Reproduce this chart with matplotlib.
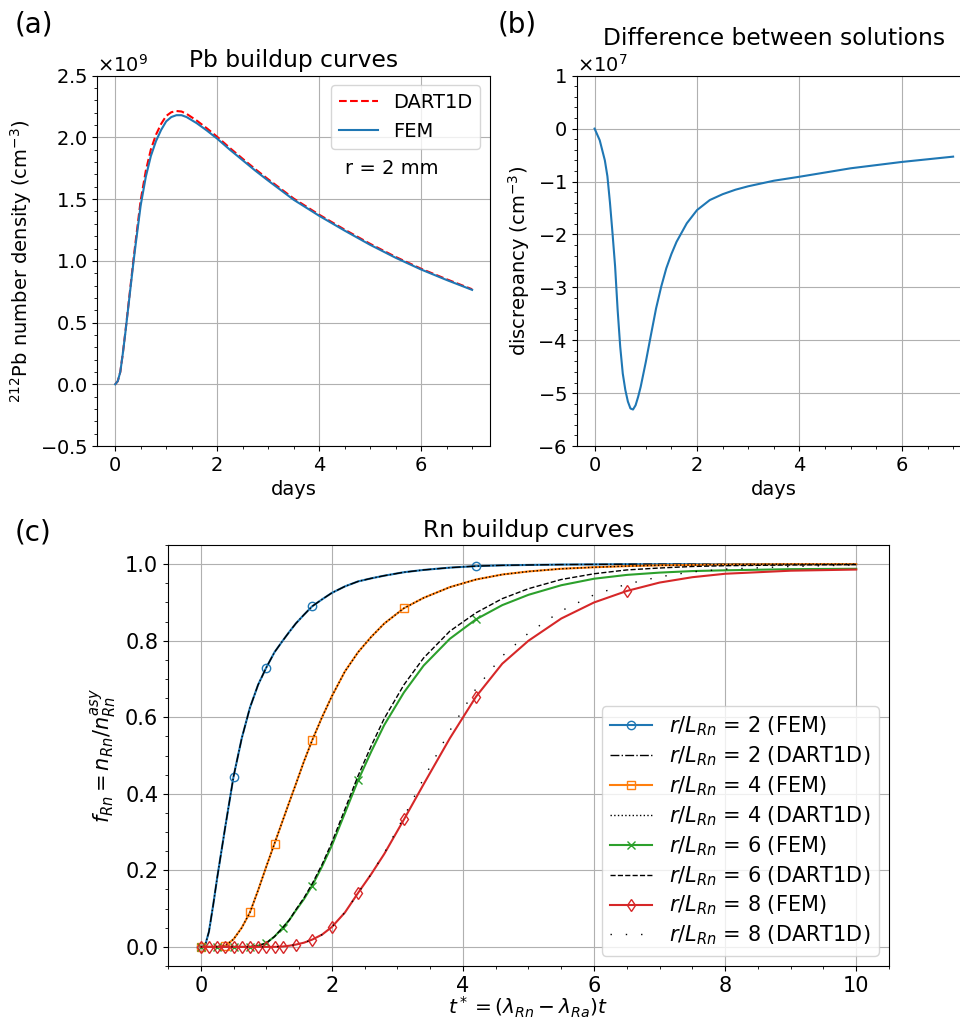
import numpy as np
import matplotlib
matplotlib.use('Agg')
import matplotlib.pyplot as plt
from matplotlib.ticker import AutoMinorLocator

plt.rcParams['font.size'] = 14

# (a) Pb-212 buildup, values in units of 1e9 cm^-3
days_a = [0, 0.05, 0.1, 0.15, 0.2, 0.25, 0.3, 0.35, 0.4, 0.5, 0.6, 0.7, 0.8, 0.9, 1.0,
          1.1, 1.2, 1.3, 1.4, 1.6, 1.8, 2.0, 2.25, 2.5, 2.75, 3.0, 3.5, 4.0, 4.5, 5.0,
          5.5, 6.0, 6.5, 7.0]
pb_fem = [0, 0.025, 0.1, 0.25, 0.42, 0.6, 0.78, 0.96, 1.13, 1.45, 1.68, 1.85, 1.97,
          2.06, 2.13, 2.165, 2.18, 2.18, 2.165, 2.115, 2.055, 1.99, 1.90, 1.815, 1.73,
          1.65, 1.495, 1.365, 1.245, 1.13, 1.025, 0.93, 0.845, 0.765]
pb_dart = [0, 0.025, 0.1, 0.252, 0.426, 0.609, 0.794, 0.98, 1.156, 1.491, 1.729, 1.903,
           2.022, 2.109, 2.174, 2.204, 2.214, 2.21, 2.191, 2.136, 2.073, 2.005, 1.914,
           1.827, 1.742, 1.661, 1.505, 1.374, 1.253, 1.138, 1.032, 0.936, 0.851, 0.770]

# (b) FEM - DART1D, units of 1e7 cm^-3
days_b = [0, 0.1, 0.2, 0.25, 0.3, 0.35, 0.4, 0.45, 0.5, 0.55, 0.6, 0.65, 0.7, 0.75,
          0.8, 0.85, 0.9, 1.0, 1.1, 1.2, 1.3, 1.4, 1.5, 1.6, 1.8, 2.0, 2.25, 2.5, 2.75,
          3.0, 3.5, 4.0, 4.5, 5.0, 5.5, 6.0, 6.5, 7.0]
diff_b = [0, -0.22, -0.6, -0.9, -1.4, -1.98, -2.6, -3.43, -4.12, -4.63, -4.94, -5.16,
          -5.29, -5.31, -5.23, -5.07, -4.88, -4.41, -3.9, -3.4, -2.99, -2.64, -2.37,
          -2.14, -1.79, -1.54, -1.35, -1.24, -1.155, -1.09, -0.985, -0.91, -0.83, -0.75,
          -0.69, -0.63, -0.58, -0.53]

# (c) Rn buildup
t_c = [0, 0.06, 0.125, 0.19, 0.25, 0.375, 0.5, 0.625, 0.75, 0.875, 1.0, 1.125, 1.25,
       1.35, 1.45, 1.575, 1.7, 1.85, 2.0, 2.2, 2.4, 2.6, 2.8, 3.1, 3.4, 3.8, 4.2, 4.6,
       5.0, 5.5, 6.0, 6.5, 7.0, 7.5, 8.0, 9.0, 10]
mark_t = [0, 0.125, 0.25, 0.375, 0.5, 0.625, 0.75, 0.875, 1.0, 1.125, 1.25, 1.45,
          1.7, 2.0, 2.4, 3.1, 4.2, 6.5]
ratios = [2, 4, 6, 8]
f2 = [0, 0.0, 0.04, 0.11, 0.18, 0.315, 0.445, 0.545, 0.625, 0.685, 0.73, 0.77, 0.80,
      0.823, 0.845, 0.868, 0.89, 0.908, 0.925, 0.942, 0.955, 0.963, 0.97, 0.979,
      0.985, 0.991, 0.995, 0.997, 0.998, 0.999, 0.9995, 1.0, 1.0, 1.0, 1.0, 1.0, 1.0]
f4 = [0, 0, 0, 0, 0, 0.003, 0.02, 0.05, 0.09, 0.148, 0.21, 0.27, 0.33, 0.378, 0.425,
      0.485, 0.54, 0.60, 0.655, 0.72, 0.77, 0.81, 0.845, 0.885, 0.912, 0.94, 0.96,
      0.973, 0.981, 0.988, 0.992, 0.995, 0.997, 0.998, 0.999, 1.0, 1.0]
f6_fem = [0, 0, 0, 0, 0, 0, 0, 0, 0, 0.003, 0.01, 0.027, 0.05, 0.07, 0.095, 0.125,
          0.16, 0.21, 0.265, 0.35, 0.435, 0.51, 0.58, 0.665, 0.735, 0.805, 0.856,
          0.893, 0.92, 0.945, 0.962, 0.972, 0.978, 0.982, 0.984, 0.987, 0.988]
f6_dart = [0, 0, 0, 0, 0, 0, 0, 0, 0, 0.003, 0.01, 0.027, 0.05, 0.07, 0.097, 0.128,
           0.165, 0.215, 0.273, 0.36, 0.447, 0.525, 0.597, 0.685, 0.755, 0.825, 0.873,
           0.91, 0.936, 0.96, 0.975, 0.985, 0.99, 0.994, 0.996, 0.998, 0.999]
f8_fem = [0, 0, 0, 0, 0, 0, 0, 0, 0, 0, 0, 0, 0.001, 0.003, 0.006, 0.011, 0.019,
          0.032, 0.052, 0.09, 0.141, 0.19, 0.243, 0.333, 0.425, 0.545, 0.654, 0.74,
          0.80, 0.858, 0.9, 0.93, 0.952, 0.966, 0.975, 0.983, 0.986]
f8_dart = [0, 0, 0, 0, 0, 0, 0, 0, 0, 0, 0, 0, 0.001, 0.003, 0.006, 0.011, 0.019,
           0.032, 0.052, 0.09, 0.141, 0.19, 0.245, 0.34, 0.44, 0.565, 0.675, 0.76,
           0.82, 0.878, 0.92, 0.948, 0.967, 0.98, 0.987, 0.994, 0.998]
# DART1D and FEM coincide for r/L = 2 and 4
f_fem = {2: f2, 4: f4, 6: f6_fem, 8: f8_fem}
f_dart = {2: f2, 4: f4, 6: f6_dart, 8: f8_dart}

fem_style = {2: ('C0', 'o', 4), 4: ('C1', 's', 3), 6: ('C2', 'x', 2), 8: ('C3', 'd', 1)}
dart_style = {2: '-.', 4: ':', 6: '--', 8: (0, (1, 10))}

fig = plt.figure(figsize=(9.6, 10.23), dpi=100)
ax_a = fig.add_axes([0.1014, 0.564, 0.409, 0.362])
ax_b = fig.add_axes([0.6007, 0.564, 0.4108, 0.362])
ax_c = fig.add_axes([0.175, 0.0557, 0.751, 0.4115])

# panel (a)
ax_a.plot(days_a, np.array(pb_dart) * 1e9, 'r--', label='DART1D')
ax_a.plot(days_a, np.array(pb_fem) * 1e9, color='C0', label='FEM')
ax_a.set_ylim(-0.5e9, 2.5e9)
ax_a.set_title('Pb buildup curves')
ax_a.set_xlabel('days')
ax_a.set_ylabel('$^{212}$Pb number density (cm$^{-3}$)')
ax_a.text(4.5, 1.75e9, 'r = 2 mm', va='center')
ax_a.legend(loc='upper right')

# panel (b)
ax_b.plot(days_b, np.array(diff_b) * 1e7, color='C0')
ax_b.set_ylim(-6e7, 1e7)
ax_b.set_title('Difference between solutions')
ax_b.set_xlabel('days')
ax_b.set_ylabel('discrepancy (cm$^{-3}$)')

for ax in (ax_a, ax_b):
    ax.ticklabel_format(axis='y', style='sci', scilimits=(0, 0), useMathText=True)

# panel (c)
for r in ratios:
    col, mk, step = fem_style[r]
    idx = [t_c.index(m) for m in mark_t[::step]]
    ax_c.plot(t_c, f_fem[r], color=col, marker=mk, markevery=idx, fillstyle='none',
              label='$r/L_{Rn}$ = %d (FEM)' % r)
    ax_c.plot(t_c, f_dart[r], color='k', linestyle=dart_style[r], lw=1,
              label='$r/L_{Rn}$ = %d (DART1D)' % r)
ax_c.set_title('Rn buildup curves')
ax_c.set_xlabel(r'$t^* = (\lambda_{Rn} - \lambda_{Ra})t$', fontsize=14.5, labelpad=-0.5)
ax_c.set_ylabel(r'$f_{Rn} = n_{Rn}/n_{Rn}^{asy}$', fontsize=15)
ax_c.tick_params(labelsize=15)
ax_c.legend(loc='lower right', fontsize=15, labelspacing=0.3)

for ax in (ax_a, ax_b, ax_c):
    ax.grid(True)
    ax.xaxis.set_minor_locator(AutoMinorLocator())
    ax.yaxis.set_minor_locator(AutoMinorLocator())

fig.text(15 / 960, 1 - 24 / 1023, '(a)', fontsize=20, va='center')
fig.text(498 / 960, 1 - 24 / 1023, '(b)', fontsize=20, va='center')
fig.text(15 / 960, 1 - 532 / 1023, '(c)', fontsize=20, va='center')

fig.savefig('out.png', dpi=100)
